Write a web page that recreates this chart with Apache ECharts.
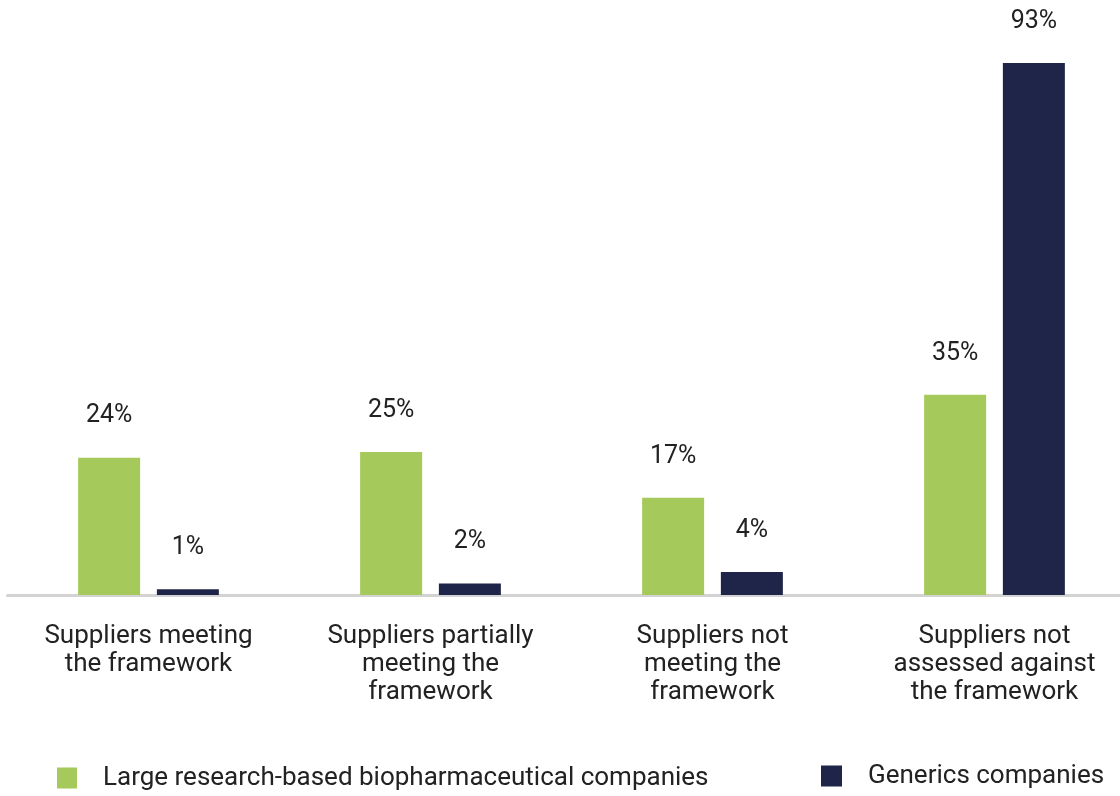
<!DOCTYPE html>
<html>
<head>
<meta charset="utf-8">
<script src="https://cdn.jsdelivr.net/npm/echarts@6/dist/echarts.min.js"></script>
<style>
html,body{margin:0;padding:0;background:#fff;overflow:hidden;width:1120px;height:796px;}
#chart{width:1136px;height:796px;}
</style>
</head>
<body>
<div id="chart"></div>
<script>
const categories = [
  "Suppliers meeting\nthe framework",
  "Suppliers partially\nmeeting the\nframework",
  "Suppliers not\nmeeting the\nframework",
  "Suppliers not\nassessed against\nthe framework"
];
const seriesNames = ["Large research-based biopharmaceutical companies", "Generics companies"];
const largeResearch = [24, 25, 17, 35];
const generics = [1, 2, 4, 93];

const font = "Roboto, 'Noto Sans', sans-serif";
const chart = echarts.init(document.getElementById('chart'), null, {renderer: 'canvas'});
const labelCfg = {
  show: true, position: 'top', distance: 29,
  formatter: p => p.value + '%',
  fontFamily: font, fontSize: 25, color: '#222'
};
chart.setOption({
  animation: false,
  backgroundColor: '#fff',
  grid: {left: 7.5, right: 0.5, top: 23, bottom: 201, containLabel: false},
  xAxis: {
    type: 'category', data: categories,
    axisLine: {lineStyle: {color: '#d3d3d3', width: 3}},
    axisTick: {show: false},
    axisLabel: {fontFamily: font, fontSize: 26, color: '#222', lineHeight: 28, margin: 27, interval: 0}
  },
  yAxis: {type: 'value', min: 0, max: 100, show: false, splitLine: {show: false}},
  legend: [
    {data: [seriesNames[0]], left: 57, top: 765, padding: 0, itemWidth: 20, itemHeight: 21,
     icon: 'rect', textStyle: {fontFamily: font, fontSize: 26, color: '#222', padding: [0, 0, 0, 21]}},
    {data: [seriesNames[1]], left: 821, top: 756, padding: 0, itemWidth: 21, itemHeight: 21,
     icon: 'rect', textStyle: {fontFamily: font, fontSize: 26, color: '#222', padding: [0, 0, 0, 21],
       rich: {}, lineHeight: 40, verticalAlign: 'bottom'}}
  ],
  series: [
    {name: seriesNames[0], type: 'bar', data: largeResearch, barWidth: 62, barGap: '27%',
     itemStyle: {color: '#a5c95a'}, label: labelCfg},
    {name: seriesNames[1], type: 'bar', data: generics, barWidth: 62,
     itemStyle: {color: '#1f2548'}, label: labelCfg}
  ]
});
</script>
</body>
</html>
